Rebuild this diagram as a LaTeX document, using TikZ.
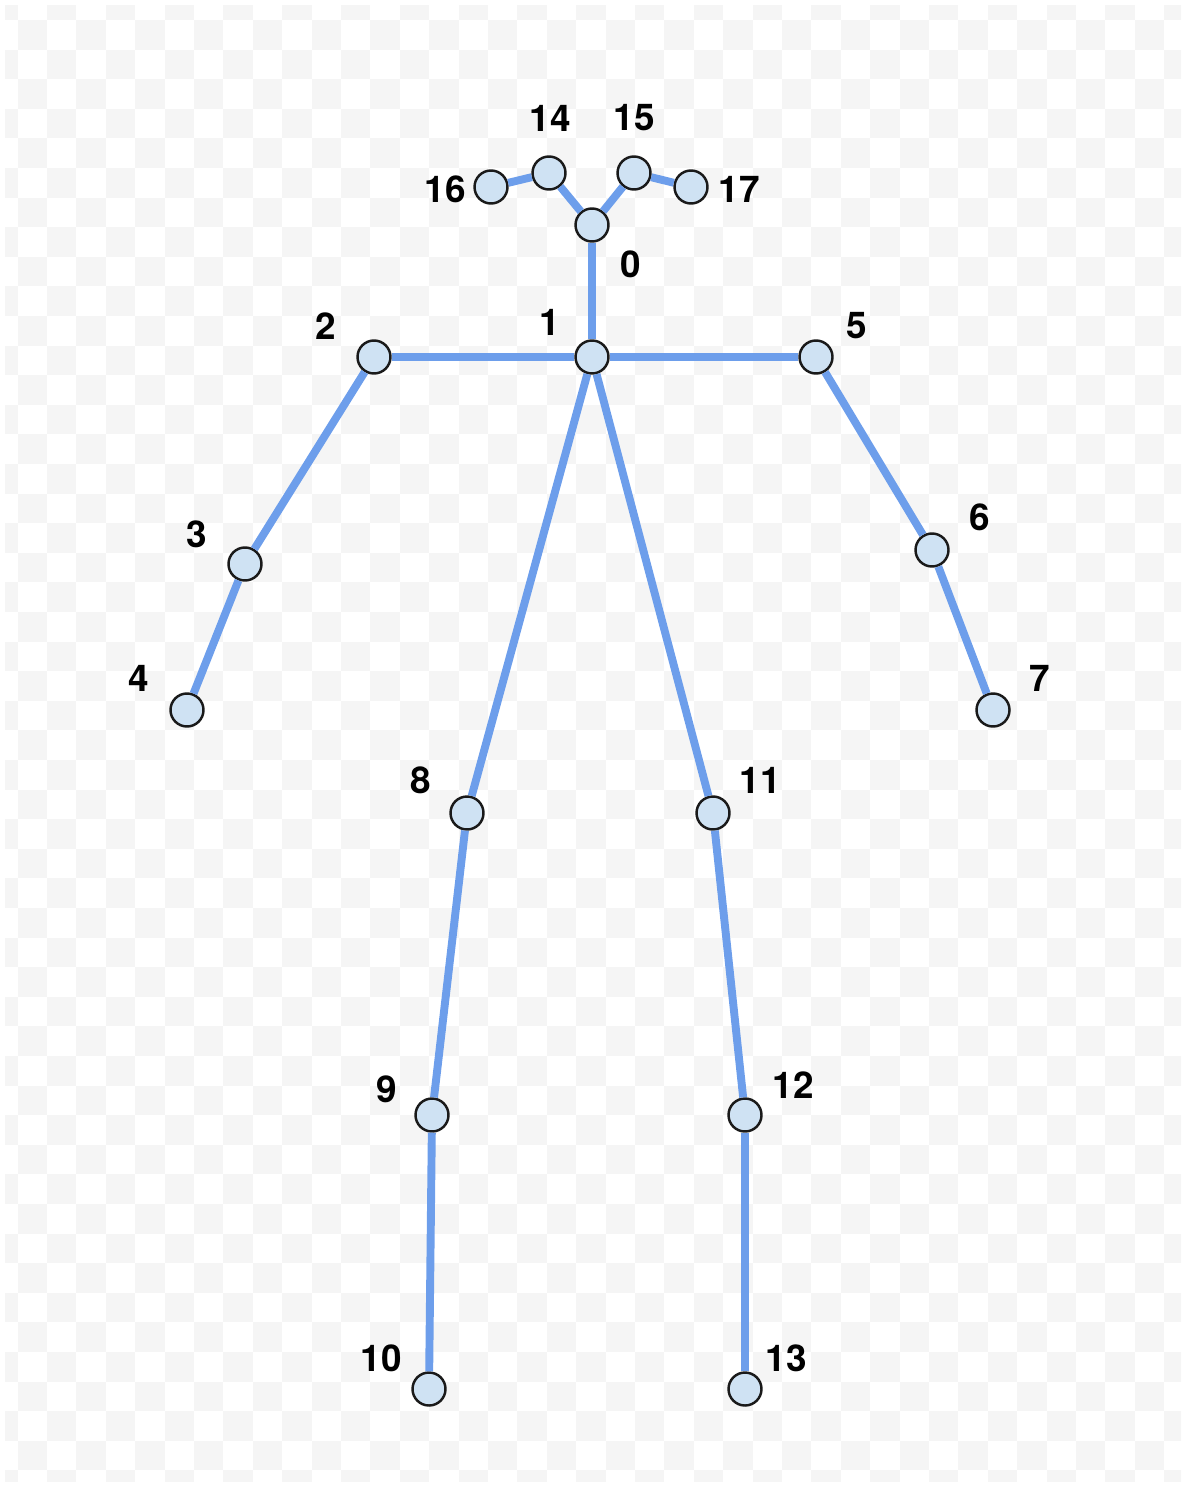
\documentclass[tikz,border=0pt]{standalone}
\usepackage{fontspec}
\setmainfont{TeX Gyre Heros}
\usepackage{tikz}
\usetikzlibrary{positioning}
\definecolor{bonecol}{HTML}{6D9EEB}
\definecolor{jointfill}{HTML}{CFE2F3}
\definecolor{jointline}{HTML}{1A1A1A}
\definecolor{checkgray}{HTML}{F5F5F5}

\begin{document}
\begin{tikzpicture}[x=0.02cm, y=-0.02cm,
  joint/.style={circle, draw=jointline, fill=jointfill, line width=1.4pt,
                minimum size=0.66cm, inner sep=0pt},
  num/.style={font=\fontsize{21}{25}\selectfont\bfseries, text=black,
              inner sep=0pt},
  bone/.style={bonecol, line width=4.5pt},
]
  \useasboundingbox (0,0) rectangle (1185,1486);
  % background checkerboard
  \begin{scope}
    \clip (5,6) rectangle (1181,1481);
    \foreach \i in {-1,...,39} {
      \foreach \j in {-1,...,49} {
        \pgfmathtruncatemacro\cellodd{mod(\i+\j+4,2)}
        \ifnum\cellodd=0
          \fill[checkgray] (17.5+\i*29.4,20+\j*29.6) rectangle ++(29.4,29.6);
        \fi
      }
    }
  \end{scope}

  % joints
  \node[joint] (j0) at (592,225) {};
  \node[joint] (j1) at (592,357) {};
  \node[joint] (j2) at (374,357) {};
  \node[joint] (j3) at (245,564) {};
  \node[joint] (j4) at (187,710) {};
  \node[joint] (j5) at (816,357) {};
  \node[joint] (j6) at (932,550) {};
  \node[joint] (j7) at (993,710) {};
  \node[joint] (j8) at (467,813) {};
  \node[joint] (j9) at (432,1115) {};
  \node[joint] (j10) at (429,1389) {};
  \node[joint] (j11) at (713,813) {};
  \node[joint] (j12) at (745,1115) {};
  \node[joint] (j13) at (745,1389) {};
  \node[joint] (j14) at (549,173) {};
  \node[joint] (j15) at (634,173) {};
  \node[joint] (j16) at (491,187) {};
  \node[joint] (j17) at (691,187) {};

  % numbers
  \node[num] (n0) at (631,264) {0};
  \node[num] (n1) at (550,322) {1};
  \node[num] (n2) at (326,326) {2};
  \node[num] (n3) at (197,534) {3};
  \node[num] (n4) at (139,678) {4};
  \node[num] (n5) at (857,326) {5};
  \node[num] (n6) at (980,517) {6};
  \node[num] (n7) at (1040,678) {7};
  \node[num] (n8) at (421,780) {8};
  \node[num] (n9) at (387,1089) {9};
  \node[num] (n10) at (381,1358) {10};
  \node[num] (n11) at (760,780) {11};
  \node[num] (n12) at (793,1085) {12};
  \node[num] (n13) at (786,1358) {13};
  \node[num] (n14) at (550,118) {14};
  \node[num] (n15) at (634,118) {15};
  \node[num] (n16) at (445,189) {16};
  \node[num] (n17) at (739,189) {17};

  % bones
  \draw[bone] (j0) -- (j1);
  \draw[bone] (j0) -- (j14);
  \draw[bone] (j0) -- (j15);
  \draw[bone] (j14) -- (j16);
  \draw[bone] (j15) -- (j17);
  \draw[bone] (j1) -- (j2);
  \draw[bone] (j2) -- (j3);
  \draw[bone] (j3) -- (j4);
  \draw[bone] (j1) -- (j5);
  \draw[bone] (j5) -- (j6);
  \draw[bone] (j6) -- (j7);
  \draw[bone] (j1) -- (j8);
  \draw[bone] (j8) -- (j9);
  \draw[bone] (j9) -- (j10);
  \draw[bone] (j1) -- (j11);
  \draw[bone] (j11) -- (j12);
  \draw[bone] (j12) -- (j13);
\end{tikzpicture}
\end{document}
